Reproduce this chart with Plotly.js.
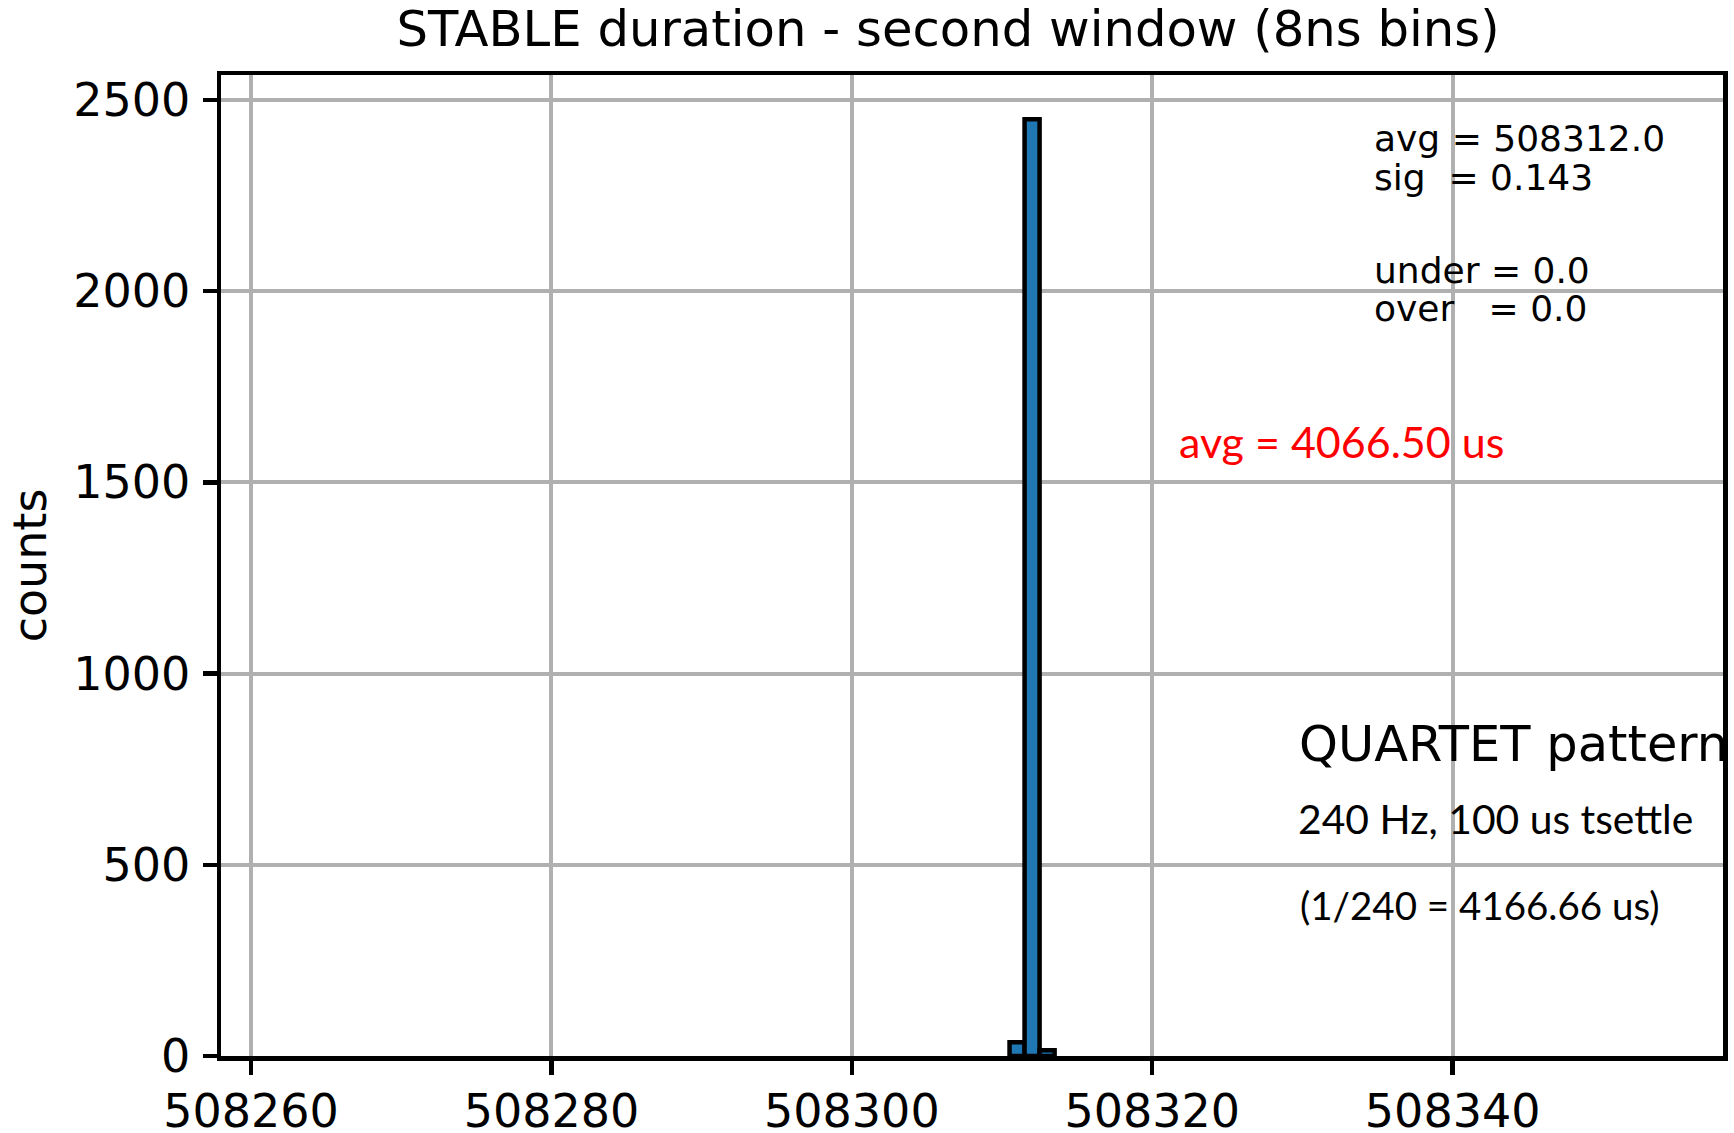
<!DOCTYPE html>
<html>
<head>
<meta charset="utf-8">
<script src="https://cdn.plot.ly/plotly-3.0.1.min.js"></script>
<style>
  html, body { margin: 0; padding: 0; background: #ffffff; }
  #chart { width: 1734px; height: 1133px; }
</style>
</head>
<body>
<div id="chart"></div>
<script>
// Histogram of STABLE duration in 8 ns clock ticks (bins of width 1 tick)
const binCenters = [508311, 508312, 508313];
const binCounts = [36, 2449, 15];
const binWidth = 1;

// Axis tick values
const xTickVals = [508260, 508280, 508300, 508320, 508340];
const xTickText = ['508260', '508280', '508300', '508320', '508340'];
const yTickVals = [0, 500, 1000, 1500, 2000, 2500];
const yTickText = ['0', '500', '1000', '1500', '2000', '2500'];

// Summary lines drawn in the upper right
const statLines = ['avg = 508312.0', 'sig\u00a0\u00a0= 0.143', 'under = 0.0', 'over\u00a0\u00a0\u00a0= 0.0'];
const avgNote = 'avg = 4066.50 us';
const patternTitle = 'QUARTET pattern';
const patternRate = '240 Hz, 100 us tsettle';
const patternPeriod = '(1/240 = 4166.66 us)';

const W = 1734, H = 1133;
const M = { l: 221, r: 11, t: 75, b: 77 };
const plotW = W - M.l - M.r;
const plotH = H - M.t - M.b;
const xRange = [508258, 508358];
const yRange = [0, 2565];

// pixel helpers for text placement
const px2paperX = px => (px - M.l) / plotW;
const py2paperY = py => 1 - (py - M.t) / plotH;
const px2dataX = px => xRange[0] + (px - M.l) / plotW * (xRange[1] - xRange[0]);
const py2dataY = py => yRange[0] + (1 - (py - M.t) / plotH) * (yRange[1] - yRange[0]);

const dejavu = 'DejaVu Sans, sans-serif';
const lato = 'Lato, Carlito, sans-serif';

const histTrace = {
  type: 'bar',
  x: binCenters,
  y: binCounts,
  width: binCenters.map(() => binWidth),
  marker: { color: '#1f77b4', line: { color: '#000000', width: 4.5 } },
  hoverinfo: 'x+y',
  showlegend: false
};

// clipped by the plot area, as the label runs into the right edge
const patternTrace = {
  type: 'scatter',
  mode: 'text',
  x: [px2dataX(1299)],
  y: [py2dataY(749)],
  text: [patternTitle],
  textposition: 'middle right',
  textfont: { family: dejavu, size: 49.5, color: '#000000' },
  cliponaxis: true,
  hoverinfo: 'skip',
  showlegend: false
};

const statY = [138.5, 177.5, 270, 308.5];
const annotations = statLines.map((t, i) => ({
  text: t,
  xref: 'paper', yref: 'paper',
  x: px2paperX(1372), y: py2paperY(statY[i]),
  xanchor: 'left', yanchor: 'middle',
  showarrow: false,
  font: { family: dejavu, size: 36, color: '#000000' }
}));

annotations.push({
  text: avgNote,
  xref: 'paper', yref: 'paper',
  x: px2paperX(1177), y: py2paperY(441),
  xanchor: 'left', yanchor: 'middle',
  showarrow: false,
  font: { family: lato, size: 43, color: '#ff0000' }
});
annotations.push({
  text: patternRate,
  xref: 'paper', yref: 'paper',
  x: px2paperX(1296), y: py2paperY(818),
  xanchor: 'left', yanchor: 'middle',
  showarrow: false,
  font: { family: lato, size: 40.8, color: '#000000' }
});
annotations.push({
  text: patternPeriod,
  xref: 'paper', yref: 'paper',
  x: px2paperX(1298), y: py2paperY(905),
  xanchor: 'left', yanchor: 'middle',
  showarrow: false,
  font: { family: lato, size: 38.5, color: '#000000' }
});

const axisCommon = {
  showline: true, mirror: true, linecolor: '#000000', linewidth: 4.5,
  showgrid: true, gridcolor: '#b0b0b0', gridwidth: 4,
  zeroline: false,
  ticks: 'outside', ticklen: 14, tickwidth: 4.5, tickcolor: '#000000',
  tickfont: { family: dejavu, size: 46, color: '#000000' },
  automargin: false
};

const layout = {
  width: W, height: H,
  margin: M,
  paper_bgcolor: '#ffffff',
  plot_bgcolor: '#ffffff',
  bargap: 0,
  title: {
    text: 'STABLE duration - second window (8ns bins)',
    font: { family: dejavu, size: 49.7, color: '#000000' },
    xref: 'container', yref: 'container',
    x: 948 / W, xanchor: 'center',
    y: 1 - 29 / H, yanchor: 'middle'
  },
  xaxis: Object.assign({}, axisCommon, {
    range: xRange,
    tickmode: 'array', tickvals: xTickVals, ticktext: xTickText,
    ticklabelstandoff: -3
  }),
  yaxis: Object.assign({}, axisCommon, {
    range: yRange,
    tickmode: 'array', tickvals: yTickVals, ticktext: yTickText,
    ticklabelstandoff: 3,
    title: { text: 'counts', font: { family: dejavu, size: 46, color: '#000000' }, standoff: 13 }
  }),
  annotations: annotations,
  showlegend: false
};

Plotly.newPlot('chart', [histTrace, patternTrace], layout, { displayModeBar: false, staticPlot: true });
</script>
</body>
</html>
